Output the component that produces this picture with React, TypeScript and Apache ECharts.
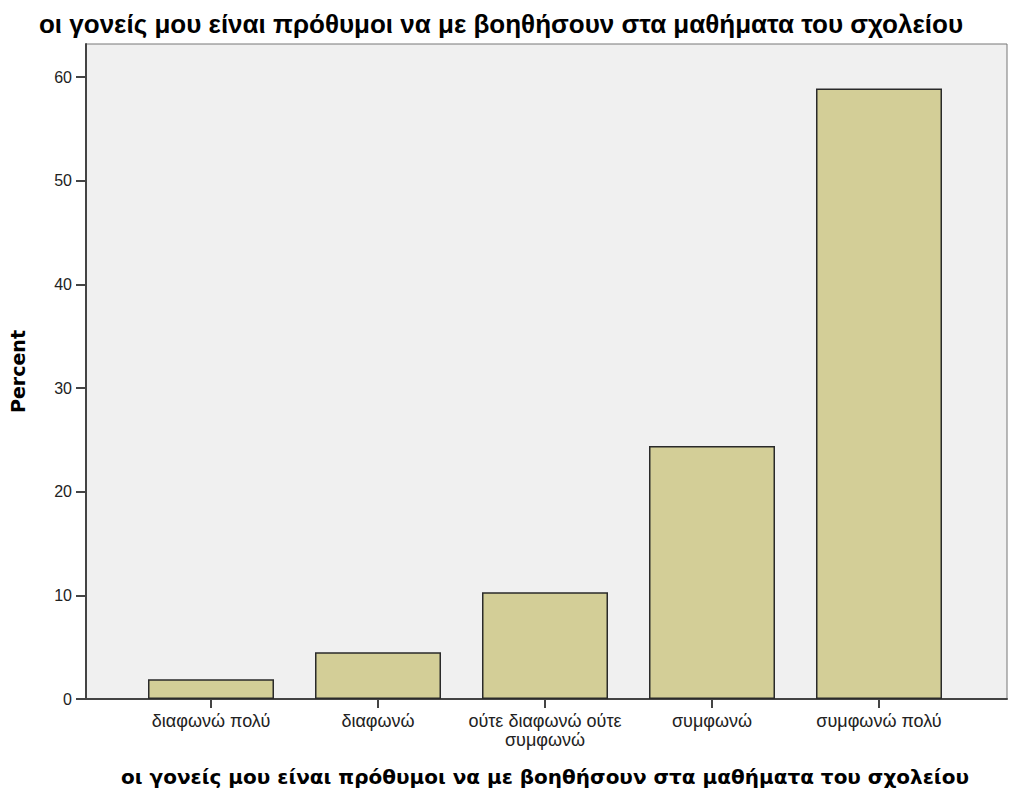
import React, { useEffect, useRef } from "react";
import * as echarts from "echarts";

const titleText = "οι γονείς μου είναι πρόθυμοι να με βοηθήσουν στα μαθήματα του σχολείου";
const categories = ["διαφωνώ πολύ", "διαφωνώ", "ούτε διαφωνώ ούτε\nσυμφωνώ", "συμφωνώ", "συμφωνώ πολύ"];
const percents = [1.9, 4.5, 10.3, 24.4, 58.9];
const yMax = 63.2;

export default function App() {
  const ref = useRef<HTMLDivElement>(null);
  useEffect(() => {
    if (!ref.current) return;
    const chart = echarts.init(ref.current, null, { renderer: "svg" });
    chart.setOption({
      animation: false,
      backgroundColor: "#ffffff",
      title: {
        text: titleText,
        left: 496,
        textAlign: "center",
        top: 6,
        textStyle: { fontFamily: "Liberation Sans, Arial", fontWeight: "bold", fontSize: 26, color: "#000" },
      },
      grid: [
        { left: 81, right: 4, top: 44, bottom: 99, show: true, backgroundColor: "#f0f0f0", borderColor: "#777", borderWidth: 1 },
        { left: 127.5, right: 48.5, top: 44, bottom: 99 },
      ],
      xAxis: [
        {
          gridIndex: 0, type: "value", min: 0, max: 1,
          axisLine: { show: true, lineStyle: { color: "#444", width: 2 } },
          axisTick: { show: false }, axisLabel: { show: false }, splitLine: { show: false },
        },
        {
          gridIndex: 1, type: "category", data: categories,
          axisLine: { show: false },
          axisTick: { show: true, alignWithLabel: true, length: 9, lineStyle: { color: "#444", width: 2 } },
          axisLabel: { color: "#222", fontSize: 18, fontFamily: "Liberation Sans, Arial", margin: 12, lineHeight: 19, interval: 0 },
          name: titleText,
          nameLocation: "middle",
          nameGap: 68,
          nameTextStyle: { fontFamily: "DejaVu Sans", fontWeight: "bold", fontSize: 20, color: "#000" },
        },
      ],
      yAxis: [
        {
          gridIndex: 0, type: "value", min: 0, max: yMax, interval: 10,
          axisLine: { show: true, lineStyle: { color: "#444", width: 2 } },
          axisTick: { show: true, length: 10, lineStyle: { color: "#444", width: 2 } },
          axisLabel: { color: "#222", fontSize: 16, fontFamily: "Liberation Sans, Arial", margin: 14, showMaxLabel: false },
          splitLine: { show: false },
          name: "Percent",
          nameLocation: "middle",
          nameGap: 59,
          nameTextStyle: { fontFamily: "DejaVu Sans", fontWeight: "bold", fontSize: 19, color: "#000" },
        },
        {
          gridIndex: 1, type: "value", min: 0, max: yMax, show: false,
        },
      ],
      series: [
        {
          type: "bar",
          xAxisIndex: 1,
          yAxisIndex: 1,
          data: percents,
          barWidth: 126,
          itemStyle: { color: "#d3ce97", borderColor: "#2a2a2a", borderWidth: 1.5 },
        },
      ],
    });
    return () => chart.dispose();
  }, []);
  return <div ref={ref} style={{ position: "fixed", left: 0, top: 0, width: 1011, height: 798 }} />;
}
